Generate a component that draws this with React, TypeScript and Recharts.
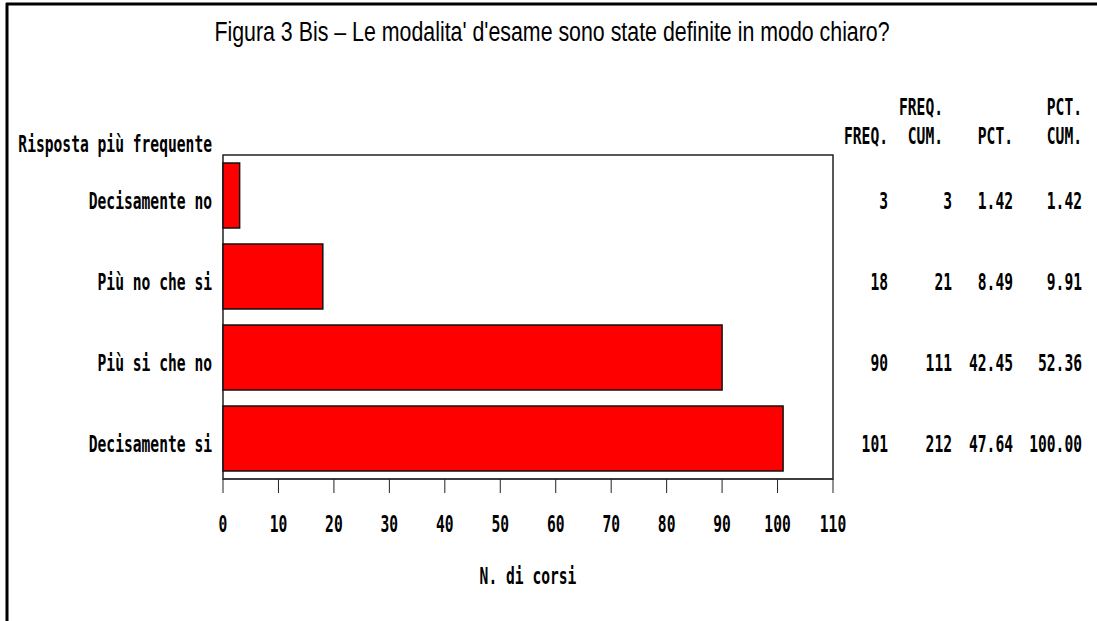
import React from "react";
import {
  BarChart,
  Bar,
  XAxis,
  YAxis,
  ReferenceArea,
} from "recharts";

const categories = ["Decisamente no", "Più no che si", "Più si che no", "Decisamente si"];
const freq = [3, 18, 90, 101];
const cumFreq = ["3", "21", "111", "212"];
const pct = ["1.42", "8.49", "42.45", "47.64"];
const cumPct = ["1.42", "9.91", "52.36", "100.00"];
const xTicks = [0, 10, 20, 30, 40, 50, 60, 70, 80, 90, 100, 110];

const data = categories.map((name, i) => ({ name, freq: freq[i] }));

const MONO = "'DejaVu Sans Mono', monospace";
const FS = 23;
const SX = 0.636;

function MonoText({ x, y, anchor, children }: any) {
  return (
    <text
      transform={`translate(${x},${y}) scale(${SX},1)`}
      textAnchor={anchor}
      fontFamily={MONO}
      fontSize={FS}
      fontWeight="bold"
      fill="#000"
    >
      {children}
    </text>
  );
}

// right-hand table columns drawn as extra category axes
function columnTick(values: string[], width: number) {
  return (props: any) => {
    const i = categories.indexOf(props.payload.value);
    return (
      <MonoText x={props.x + width} y={props.y + 13} anchor="end">
        {values[i]}
      </MonoText>
    );
  };
}

function columnHeader(top: string, bottom: string, width: number, shift = 0) {
  return (props: any) => {
    const vb = props.viewBox || {};
    const right = vb.x + width - shift;
    return (
      <g>
        {top && (
          <MonoText x={right} y={vb.y - 40} anchor="end">
            {top}
          </MonoText>
        )}
        <MonoText x={right} y={vb.y - 11} anchor="end">
          {bottom}
        </MonoText>
      </g>
    );
  };
}

const CategoryTick = (props: any) => (
  <MonoText x={props.x} y={props.y + 13} anchor="end">
    {props.payload.value}
  </MonoText>
);

const ValueTick = (props: any) => (
  <MonoText x={props.x} y={props.y + 39} anchor="middle">
    {props.payload.value}
  </MonoText>
);

export default function App() {
  const cols = [
    { id: "c1", values: freq.map(String), width: 55, top: "", bottom: "FREQ.", shift: 0 },
    { id: "c2", values: cumFreq, width: 64, top: "FREQ.", bottom: "CUM.", shift: 9 },
    { id: "c3", values: pct, width: 61, top: "", bottom: "PCT.", shift: 0 },
    { id: "c4", values: cumPct, width: 69, top: "PCT.", bottom: "CUM.", shift: 0 },
  ];

  return (
    <div style={{ position: "relative", width: 1097, height: 621, background: "#fff" }}>
      <style>{"body{margin:0}"}</style>
      <BarChart
        width={1097}
        height={621}
        data={data}
        layout="vertical"
        margin={{ top: 155, right: 15, bottom: 0, left: 0 }}
        barCategoryGap="10%"
      >
        <XAxis
          type="number"
          domain={[0, 110]}
          ticks={xTicks}
          height={142}
          tickSize={14}
          tickMargin={0}
          stroke="#222"
          tick={<ValueTick />}
          label={{
            value: "N. di corsi",
            content: (p: any) => (
              <MonoText x={p.viewBox.x + p.viewBox.width / 2} y={p.viewBox.y + 105} anchor="middle">
                N. di corsi
              </MonoText>
            ),
          }}
        />
        <YAxis
          yAxisId="main"
          type="category"
          dataKey="name"
          width={223}
          axisLine={false}
          tickLine={false}
          tickSize={0}
          tickMargin={11}
          tick={<CategoryTick />}
          label={{
            value: "Risposta più frequente",
            content: (p: any) => (
              <MonoText x={p.viewBox.x + p.viewBox.width - 11} y={p.viewBox.y - 3} anchor="end">
                Risposta più frequente
              </MonoText>
            ),
          }}
        />
        {cols.map((c) => (
          <YAxis
            key={c.id}
            yAxisId={c.id}
            orientation="right"
            type="category"
            dataKey="name"
            width={c.width}
            axisLine={false}
            tickLine={false}
            tickSize={0}
            tickMargin={0}
            tick={columnTick(c.values, c.width)}
            label={{ value: c.bottom, content: columnHeader(c.top, c.bottom, c.width, c.shift) }}
          />
        ))}
        <ReferenceArea
          yAxisId="main"
          x1={0}
          x2={110}
          fill="none"
          fillOpacity={0}
          stroke="#222"
          strokeWidth={1.5}
          ifOverflow="visible"
        />
        <Bar
          yAxisId="main"
          dataKey="freq"
          fill="#ff0000"
          stroke="#111"
          strokeWidth={1.5}
          isAnimationActive={false}
        />
      </BarChart>
      <svg
        width={1097}
        height={621}
        style={{ position: "absolute", left: 0, top: 0, pointerEvents: "none" }}
      >
        <line x1={6} y1={4} x2={1097} y2={4} stroke="#000" strokeWidth={3} />
        <line x1={7} y1={3} x2={7} y2={621} stroke="#000" strokeWidth={3} />
        <text
          transform="translate(552,41) scale(0.763,1)"
          textAnchor="middle"
          fontFamily="'Liberation Sans', sans-serif"
          fontSize={28}
          fill="#000"
        >
          Figura 3 Bis – Le modalita' d'esame sono state definite in modo chiaro?
        </text>
      </svg>
    </div>
  );
}
